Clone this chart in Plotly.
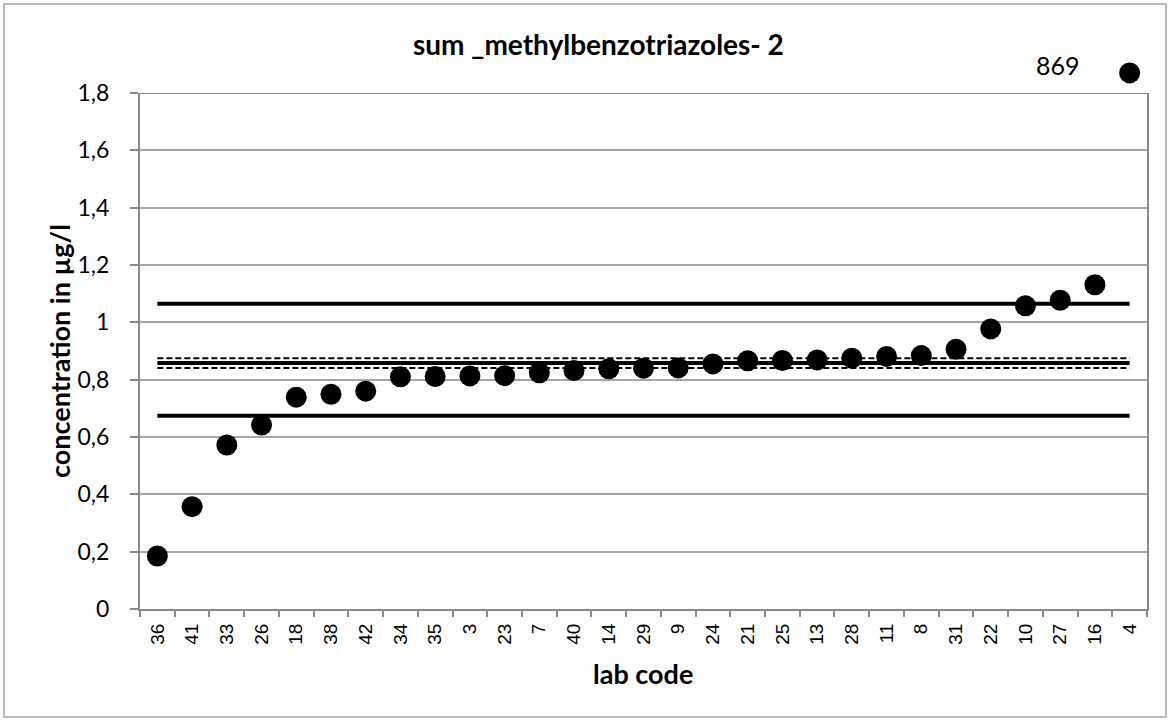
import plotly.graph_objects as go

# ---- data ----
lab_codes = ["36", "41", "33", "26", "18", "38", "42", "34", "35", "3", "23", "7", "40", "14",
             "29", "9", "24", "21", "25", "13", "28", "11", "8", "31", "22", "10", "27", "16", "4"]
concentrations = [0.185, 0.357, 0.572, 0.642, 0.739, 0.749, 0.760, 0.810, 0.811, 0.813, 0.814,
                  0.824, 0.832, 0.838, 0.840, 0.841, 0.855, 0.866, 0.867, 0.869, 0.875, 0.881,
                  0.884, 0.906, 0.977, 1.058, 1.077, 1.131, None]
outlier_lab = "4"
outlier_value = 869
outlier_display_y = 1.87

upper_limit = 1.065
lower_limit = 0.674
assigned_value = 0.858
uncert_upper = 0.875
uncert_lower = 0.841

y_ticks = [0, 0.2, 0.4, 0.6, 0.8, 1.0, 1.2, 1.4, 1.6, 1.8]
y_max = 1.8

# ---- layout geometry (pixels) ----
W, H = 1171, 722
L, R = 140, 24
PLOT_TOP, PLOT_BOTTOM, EXT_TOP = 93, 609, 50
T, B = EXT_TOP, H - PLOT_BOTTOM
PW, PH = W - L - R, PLOT_BOTTOM - EXT_TOP
main_frac = (PLOT_BOTTOM - PLOT_TOP) / PH

def px_x(x):
    return (x - L) / PW

def px_y(y):
    return (PLOT_BOTTOM - y) / PH

fig = go.Figure()

line_span = [lab_codes[0], lab_codes[-1]]
for val, w, dash in [(upper_limit, 4, "solid"), (lower_limit, 4, "solid"),
                     (assigned_value, 4, "solid"),
                     (uncert_upper, 2, "6px,3px"), (uncert_lower, 2, "6px,3px")]:
    fig.add_trace(go.Scatter(x=line_span, y=[val, val], mode="lines",
                             line=dict(color="black", width=w, dash=dash),
                             hoverinfo="skip", showlegend=False))

fig.add_trace(go.Scatter(x=lab_codes, y=concentrations, mode="markers",
                         marker=dict(color="black", size=21),
                         showlegend=False))

# outlier drawn above the plot on an extended, hidden y scale
fig.add_trace(go.Scatter(x=[outlier_lab], y=[outlier_display_y], mode="markers",
                         xaxis="x", yaxis="y2",
                         marker=dict(color="black", size=21),
                         showlegend=False))

fig.add_annotation(x=lab_codes.index(outlier_lab), y=outlier_display_y, xref="x", yref="y2",
                   text=str(outlier_value), showarrow=False, xshift=-72, yshift=8,
                   xanchor="center", yanchor="middle",
                   font=dict(family="Lato", size=25, color="black"))

# titles
fig.add_annotation(x=px_x(598), y=px_y(44), xref="paper", yref="paper",
                   xanchor="center", yanchor="middle",
                   text="<b>sum _methylbenzotriazoles- 2</b>", showarrow=False,
                   font=dict(family="Lato", size=28, color="black"))
fig.add_annotation(x=px_x(643), y=px_y(673), xref="paper", yref="paper",
                   xanchor="center", yanchor="middle",
                   text="<b>lab code</b>", showarrow=False,
                   font=dict(family="Lato", size=27, color="black"))
fig.add_annotation(x=px_x(59), y=px_y(351), xref="paper", yref="paper",
                   xanchor="center", yanchor="middle",
                   text="<b>concentration in µg/l</b>", showarrow=False, textangle=-90,
                   font=dict(family="Lato", size=27, color="black"))

# outer chart border
fig.add_shape(type="rect", xref="paper", yref="paper",
              x0=px_x(4), x1=px_x(1166), y0=px_y(717), y1=px_y(4),
              line=dict(color="#a6a6a6", width=1.5), layer="below")
# top edge of plot frame
fig.add_shape(type="line", xref="x domain", yref="y",
              x0=0, x1=1, y0=y_max, y1=y_max,
              line=dict(color="#898989", width=2), layer="below")

fig.update_layout(
    width=W, height=H,
    margin=dict(l=L, r=R, t=T, b=B, pad=0),
    paper_bgcolor="white", plot_bgcolor="rgba(0,0,0,0)",
    separators=", ",
    showlegend=False,
    xaxis=dict(type="category", categoryorder="array", categoryarray=lab_codes,
               tickmode="array", tickvals=lab_codes, ticktext=lab_codes,
               tickangle=-90, tickson="boundaries", ticks="outside", ticklen=6,
               tickcolor="#898989", tickwidth=1.5,
               tickfont=dict(family="Liberation Sans", size=19, color="black"),
               showline=True, linecolor="#898989", linewidth=2, mirror=False,
               showgrid=False, zeroline=False, range=[-0.5, len(lab_codes) - 0.5],
               anchor="y", ticklabelstandoff=5),
    yaxis=dict(domain=[0, main_frac], range=[0, y_max], tickmode="array", tickvals=y_ticks,
               ticks="outside", ticklen=8, tickcolor="#898989", tickwidth=1.5,
               tickfont=dict(family="Lato", size=23, color="black"),
               showline=True, linecolor="#898989", linewidth=2, mirror=True,
               showgrid=True, gridcolor="#a6a6a6", gridwidth=1.5, zeroline=False,
               ticklabelstandoff=16, anchor="x"),
    yaxis2=dict(domain=[0, 1], range=[0, y_max / main_frac], anchor="x",
                showgrid=False, showline=False, showticklabels=False, ticks="",
                zeroline=False),
)

fig.write_html("out.html", post_script="document.body.style.margin='0';",
               config={"displayModeBar": False})
